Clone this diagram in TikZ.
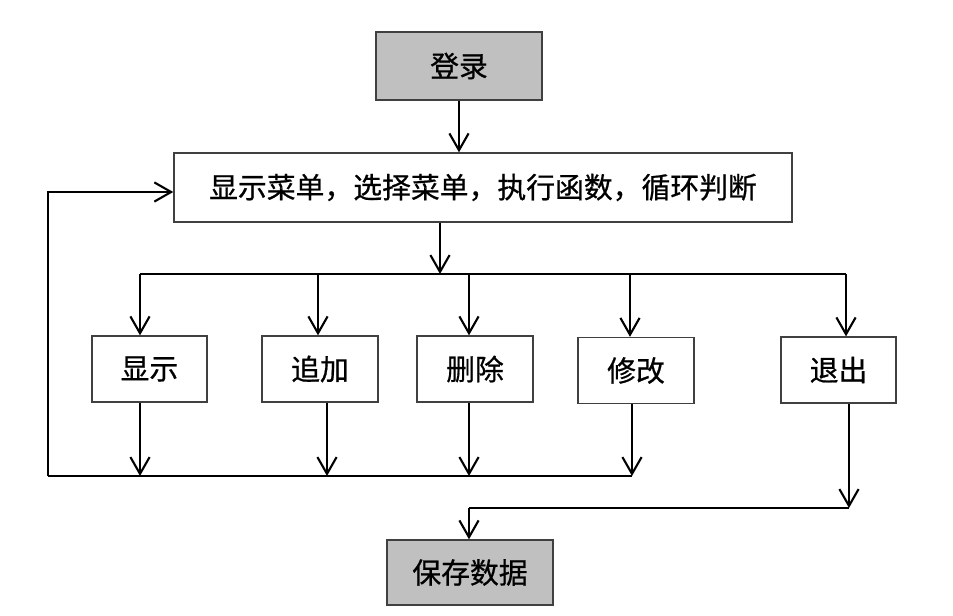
\documentclass[tikz,border=0pt]{standalone}
\usepackage{fontspec}
\newfontfamily\cjk[FakeBold=0.7]{Noto Sans CJK SC}
\usetikzlibrary{arrows.meta}
\definecolor{boxgray}{RGB}{192,192,192}

\begin{document}
\begin{tikzpicture}[x=0.025cm,y=-0.025cm,
  box/.style={draw=black!75,line width=0.9pt,minimum height=1.65cm,inner sep=0pt,
    font=\cjk\fontsize{20.5}{24}\selectfont},
  graybox/.style={box,fill=boxgray},
  line/.style={line width=1.5pt},
  arr/.style={line,-{Straight Barb[length=4.2mm,width=4.8mm]}}]
\useasboundingbox (0,0) rectangle (953,616);
% boxes
\node[graybox,minimum width=4.15cm,minimum height=1.7cm] (login) at (459,66) {登录};
\node[box,minimum width=15.45cm,minimum height=1.725cm] (menu) at (483,187.5) {显示菜单，选择菜单，执行函数，循环判断};
\node[box,minimum width=2.875cm] (show) at (149.5,369) {显示};
\node[box,minimum width=2.9cm] (add) at (320,369) {追加};
\node[box,minimum width=2.9cm] (del) at (475,369) {删除};
\node[box,minimum width=2.9cm] (mod) at (636,370.5) {修改};
\node[box,minimum width=2.875cm] (quit) at (838.5,370) {退出};
\node[graybox,minimum width=4.15cm,minimum height=1.625cm] (save) at (470,572.5) {保存数据};
% points on the lines
\coordinate (split) at (440,274);
\coordinate (t1) at (140,274);
\coordinate (t2) at (318,274);
\coordinate (t3) at (469,274);
\coordinate (t4) at (630,274);
\coordinate (t5) at (846,274);
\coordinate (u1) at (140,476);
\coordinate (u2) at (327,476);
\coordinate (u3) at (469,476);
\coordinate (u4) at (632,476);
\coordinate (back) at (48,476);
\coordinate (loop) at (48,192);
\coordinate (exit) at (849,508);
\coordinate (merge) at (469,508);
% connectors
\draw[arr] (login.south) -- (login.south |- menu.north);
\draw[arr] (split |- menu.south) -- (split);
\draw[line] (t1) -- (t5);
\draw[arr] (t1) -- (t1 |- show.north);
\draw[arr] (t2) -- (t2 |- add.north);
\draw[arr] (t3) -- (t3 |- del.north);
\draw[arr] (t4) -- (t4 |- mod.north);
\draw[arr] (t5) -- (t5 |- quit.north);
\draw[arr] (u1 |- show.south) -- (u1);
\draw[arr] (u2 |- add.south) -- (u2);
\draw[arr] (u3 |- del.south) -- (u3);
\draw[arr] (u4 |- mod.south) -- (u4);
\draw[line] (back) -- (u4);
\draw[arr] (back) -- (loop) -- (loop -| menu.west);
\draw[arr] (exit |- quit.south) -- (exit);
\draw[line] (exit) -- (merge);
\draw[arr] (merge) -- (merge |- save.north);
\end{tikzpicture}
\end{document}
